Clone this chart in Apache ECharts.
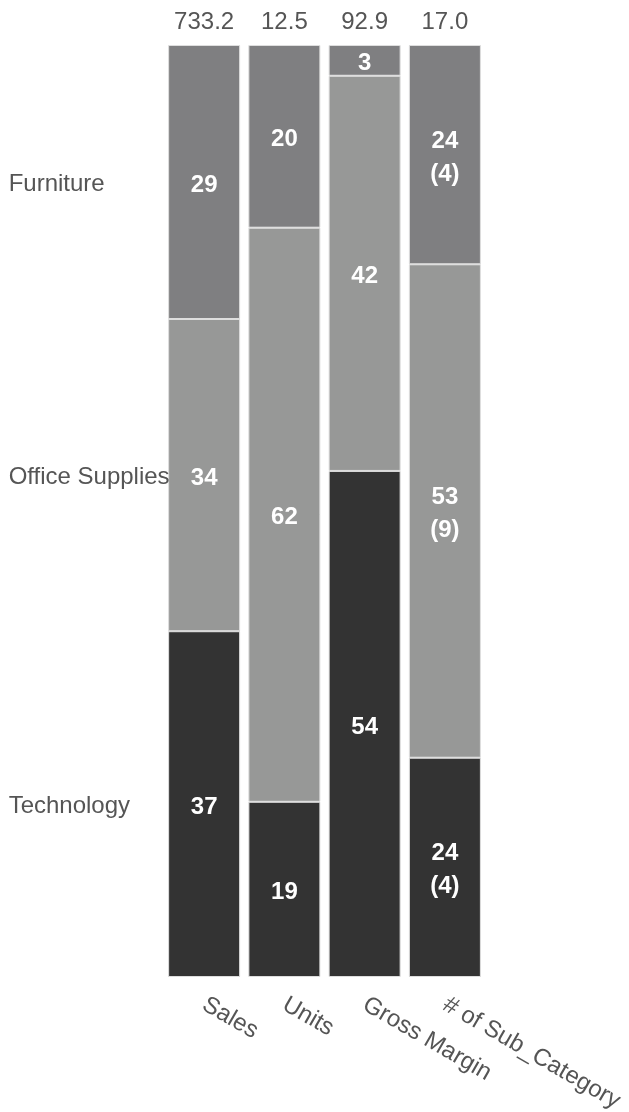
<!DOCTYPE html>
<html>
<head>
<meta charset="utf-8">
<script src="https://cdn.jsdelivr.net/npm/echarts@6/dist/echarts.min.js"></script>
<style>
html,body{margin:0;padding:0;background:#fff;}
#chart{width:629px;height:1112px;}
</style>
</head>
<body>
<div id="chart"></div>
<script>
// ---- data ----
const metrics = ['Sales', 'Units', 'Gross Margin', '# of Sub_Category'];
const metricTotals = ['733.2', '12.5', '92.9', '17.0'];
const segments = ['Furniture', 'Office Supplies', 'Technology'];
// percent share of each segment (Furniture, Office Supplies, Technology)
const salesPct = [29.4, 33.5, 37.1];
const unitsPct = [19.6, 61.6, 18.8];
const marginPct = [3.3, 42.4, 54.3];
const subCategoryCounts = [4, 9, 4];

// ---- styles ----
const palette = ['#7f7f81', '#979897', '#333333'];
const FONT = "'Liberation Sans', Arial, sans-serif";

const subTotal = subCategoryCounts.reduce((a, b) => a + b, 0);
const subPct = subCategoryCounts.map(c => c / subTotal * 100);

const barSeries = segments.map((name, i) => ({
  name: name,
  type: 'bar',
  stack: 'total',
  barWidth: 72,
  data: [salesPct[i], unitsPct[i], marginPct[i], subPct[i]],
  itemStyle: { color: palette[i], borderColor: '#dedede', borderWidth: 1 },
  label: {
    show: true,
    position: 'inside',
    offset: [0, 3],
    color: '#ffffff',
    fontFamily: FONT,
    fontSize: 24,
    fontWeight: 'bold',
    lineHeight: 33,
    formatter: p => p.dataIndex === 3
      ? Math.round(p.value) + '\n(' + subCategoryCounts[i] + ')'
      : String(Math.round(p.value))
  }
}));

// row labels placed at the centre of each Sales segment
let acc = 0;
const rowLabelData = segments.map((name, i) => {
  const c = acc + salesPct[i] / 2;
  acc += salesPct[i];
  return { value: [0, c], name: name };
});

const rowLabelSeries = {
  type: 'scatter',
  z: 10,
  symbol: 'rect',
  symbolSize: 1,
  itemStyle: { color: 'rgba(0,0,0,0)', opacity: 1 },
  silent: true,
  data: rowLabelData,
  label: {
    show: true,
    formatter: p => p.name,
    position: [-195, 3],
    align: 'left',
    verticalAlign: 'middle',
    color: '#555555',
    fontFamily: FONT,
    fontSize: 24
  }
};

const chart = echarts.init(document.getElementById('chart'), null, { renderer: 'canvas' });
chart.setOption({
  animation: false,
  backgroundColor: '#ffffff',
  grid: { left: 164, right: 144, top: 45, bottom: 135, containLabel: false, outerBoundsMode: 'none' },
  xAxis: [
    {
      type: 'category',
      data: metrics,
      position: 'bottom',
      axisLine: { show: false },
      axisTick: { show: false },
      splitLine: { show: false },
      axisLabel: {
        rotate: -30,
        margin: 26,
        color: '#555555',
        fontFamily: FONT,
        fontSize: 24,
        interval: 0
      }
    },
    {
      type: 'category',
      data: metricTotals,
      position: 'top',
      axisLine: { show: false },
      axisTick: { show: false },
      splitLine: { show: false },
      axisLabel: {
        margin: 11,
        color: '#555555',
        fontFamily: FONT,
        fontSize: 24,
        interval: 0
      }
    }
  ],
  yAxis: {
    type: 'value',
    min: 0,
    max: 100,
    inverse: true,
    show: false
  },
  series: barSeries.concat([rowLabelSeries])
});
</script>
</body>
</html>
